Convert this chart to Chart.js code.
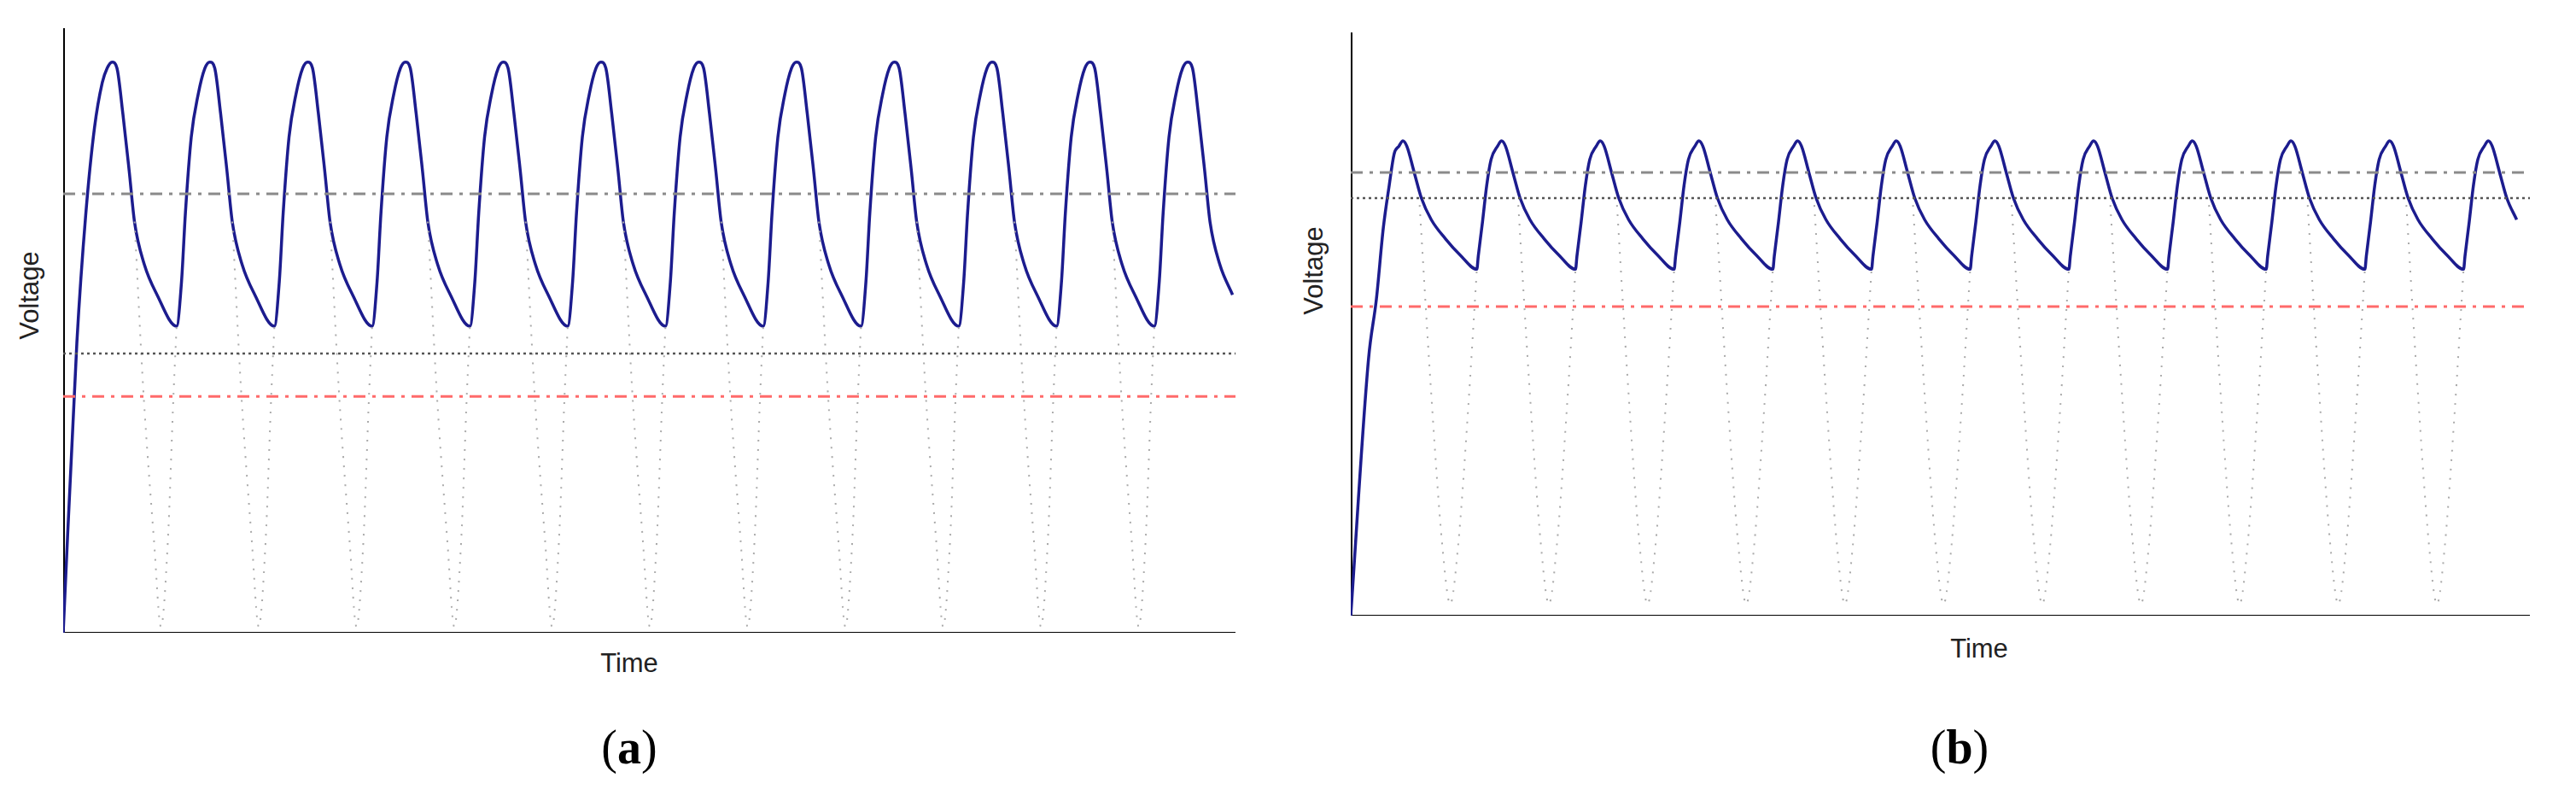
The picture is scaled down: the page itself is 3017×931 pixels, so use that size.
<!DOCTYPE html>
<html>
<head>
<meta charset="utf-8">
<script src="https://cdn.jsdelivr.net/npm/chart.js@4"></script>
<style>
  body { margin:0; width:3017px; height:931px; background:#fff; position:relative; font-family:"Liberation Sans", Arial, sans-serif; }
  .box { position:absolute; }
  .ylab { position:absolute; font-size:31px; color:#222; transform:translate(-50%,-50%) rotate(-90deg); white-space:nowrap; }
  .xlab { position:absolute; font-size:31px; color:#222; transform:translate(-50%,-50%); }
  .pl { position:absolute; font-family:"Liberation Serif", serif; font-size:56px; color:#000; transform:translate(-50%,-50%); }
</style>
</head>
<body>
<div class="box" style="left:74px;top:33px;width:1373px;height:708px;"><canvas id="chartA"></canvas></div>
<div class="box" style="left:1582px;top:38px;width:1381px;height:683px;"><canvas id="chartB"></canvas></div>
<div class="ylab" style="left:35px;top:346px;">Voltage</div>
<div class="ylab" style="left:1539px;top:317px;">Voltage</div>
<div class="xlab" style="left:737px;top:777px;">Time</div>
<div class="xlab" style="left:2318px;top:760px;">Time</div>
<div class="pl" style="left:737px;top:875px;">(<b>a</b>)</div>
<div class="pl" style="left:2295px;top:875px;">(<b>b</b>)</div>
<script>
// panel (a): time units, period 10
const aStartT = [0, 1.4, 2.3, 3.2, 4.0];
const aStartV = [0, 48, 69, 83.5, 91];
const aPeaks = [5, 15, 25, 35, 45, 55, 65, 75, 85, 95, 105, 115];
const aCycleT = [-0.5, 0, 0.5, 1.1, 1.75, 2.3, 3.3, 4.6, 6.6, 7.1, 7.5, 8.1, 8.8];
const aCycleV = [93.4, 94.4, 93.4, 85.9, 76.4, 67.9, 60.9, 55.9, 50.7, 58, 69.4, 82, 89];
const aDropT = [2.3, 3.2, 4.3, 5.0, 5.7, 6.3, 6.6];
const aDropV = [68, 40, 15, 1, 15, 40, 50.7];
const aEndT = 119.9;
const aLines = { gray: 72.6, black: 46.2, red: 39.1 };

// panel (b)
const bStartT = [0, 1.8, 2.6, 3.3, 3.9, 4.4];
const bStartV = [0, 44, 54.3, 66.5, 73.8, 79.2];
const bPeaks = [5.28, 15.28, 25.28, 35.28, 45.28, 55.28, 65.28, 75.28, 85.28, 95.28, 105.28, 115.28];
const bCycleT = [-0.4, 0, 0.4, 1.15, 1.88, 2.88, 4.33, 5.77, 7.5, 7.64, 8.07, 8.5, 8.94];
const bCycleV = [80.5, 81.4, 80.5, 76, 71.6, 67.9, 64.6, 61.9, 59.4, 61.6, 67.5, 73.8, 78.2];
const bDropT = [1.7, 2.8, 4.0, 4.8, 5.6, 6.6, 7.5];
const bDropV = [70.4, 40, 12, 2, 12, 35, 59.4];
const bEndT = 119.5;
const bLines = { gray: 76, black: 71.6, red: 53 };

function build(startT, startV, peaks, cT, cV, dT, dV, endT) {
  const wave = startT.map((t, i) => ({ x: t, y: startV[i] }));
  const drops = [];
  peaks.forEach(p => {
    cT.forEach((t, i) => { if (p + t > wave[wave.length - 1].x && p + t <= endT) wave.push({ x: p + t, y: cV[i] }); });
    if (p + dT[dT.length - 1] <= endT) {
      dT.forEach((t, i) => drops.push({ x: p + t, y: dV[i] }));
      drops.push({ x: p + dT[dT.length - 1], y: null });
    }
  });
  return { wave, drops };
}

function hline(v, endT, color, dash, w) {
  return { data: [{ x: 0, y: v }, { x: endT, y: v }], borderColor: color, borderDash: dash, borderWidth: w, pointRadius: 0 };
}

function makeChart(id, d, lines, endT) {
  const axis = { display: true, ticks: { display: false }, grid: { display: false, drawTicks: false }, border: { color: '#000', width: 3 } };
  new Chart(document.getElementById(id), {
    type: 'line',
    data: {
      datasets: [
        hline(lines.gray, endT, '#8a8a8a', [14, 8, 4, 8], 3),
        hline(lines.black, endT, '#555', [3, 4], 2.5),
        hline(lines.red, endT, '#ff6a6a', [14, 8, 4, 8], 3),
        { data: d.drops, borderColor: '#aaa', borderDash: [2, 9], borderWidth: 2, pointRadius: 0, cubicInterpolationMode: 'monotone', spanGaps: false },
        { data: d.wave, borderColor: '#1c1c8e', borderWidth: 3.5, pointRadius: 0, cubicInterpolationMode: 'monotone' }
      ]
    },
    options: {
      responsive: true, maintainAspectRatio: false, animation: false,
      plugins: { legend: { display: false }, tooltip: { enabled: false } },
      layout: { padding: 0 },
      scales: {
        x: { ...axis, type: 'linear', min: 0, max: endT },
        y: { ...axis, min: 0, max: 100 }
      }
    }
  });
}

makeChart('chartA', build(aStartT, aStartV, aPeaks, aCycleT, aCycleV, aDropT, aDropV, aEndT), aLines, aEndT);
makeChart('chartB', build(bStartT, bStartV, bPeaks, bCycleT, bCycleV, bDropT, bDropV, bEndT), bLines, bEndT);
</script>
</body>
</html>
